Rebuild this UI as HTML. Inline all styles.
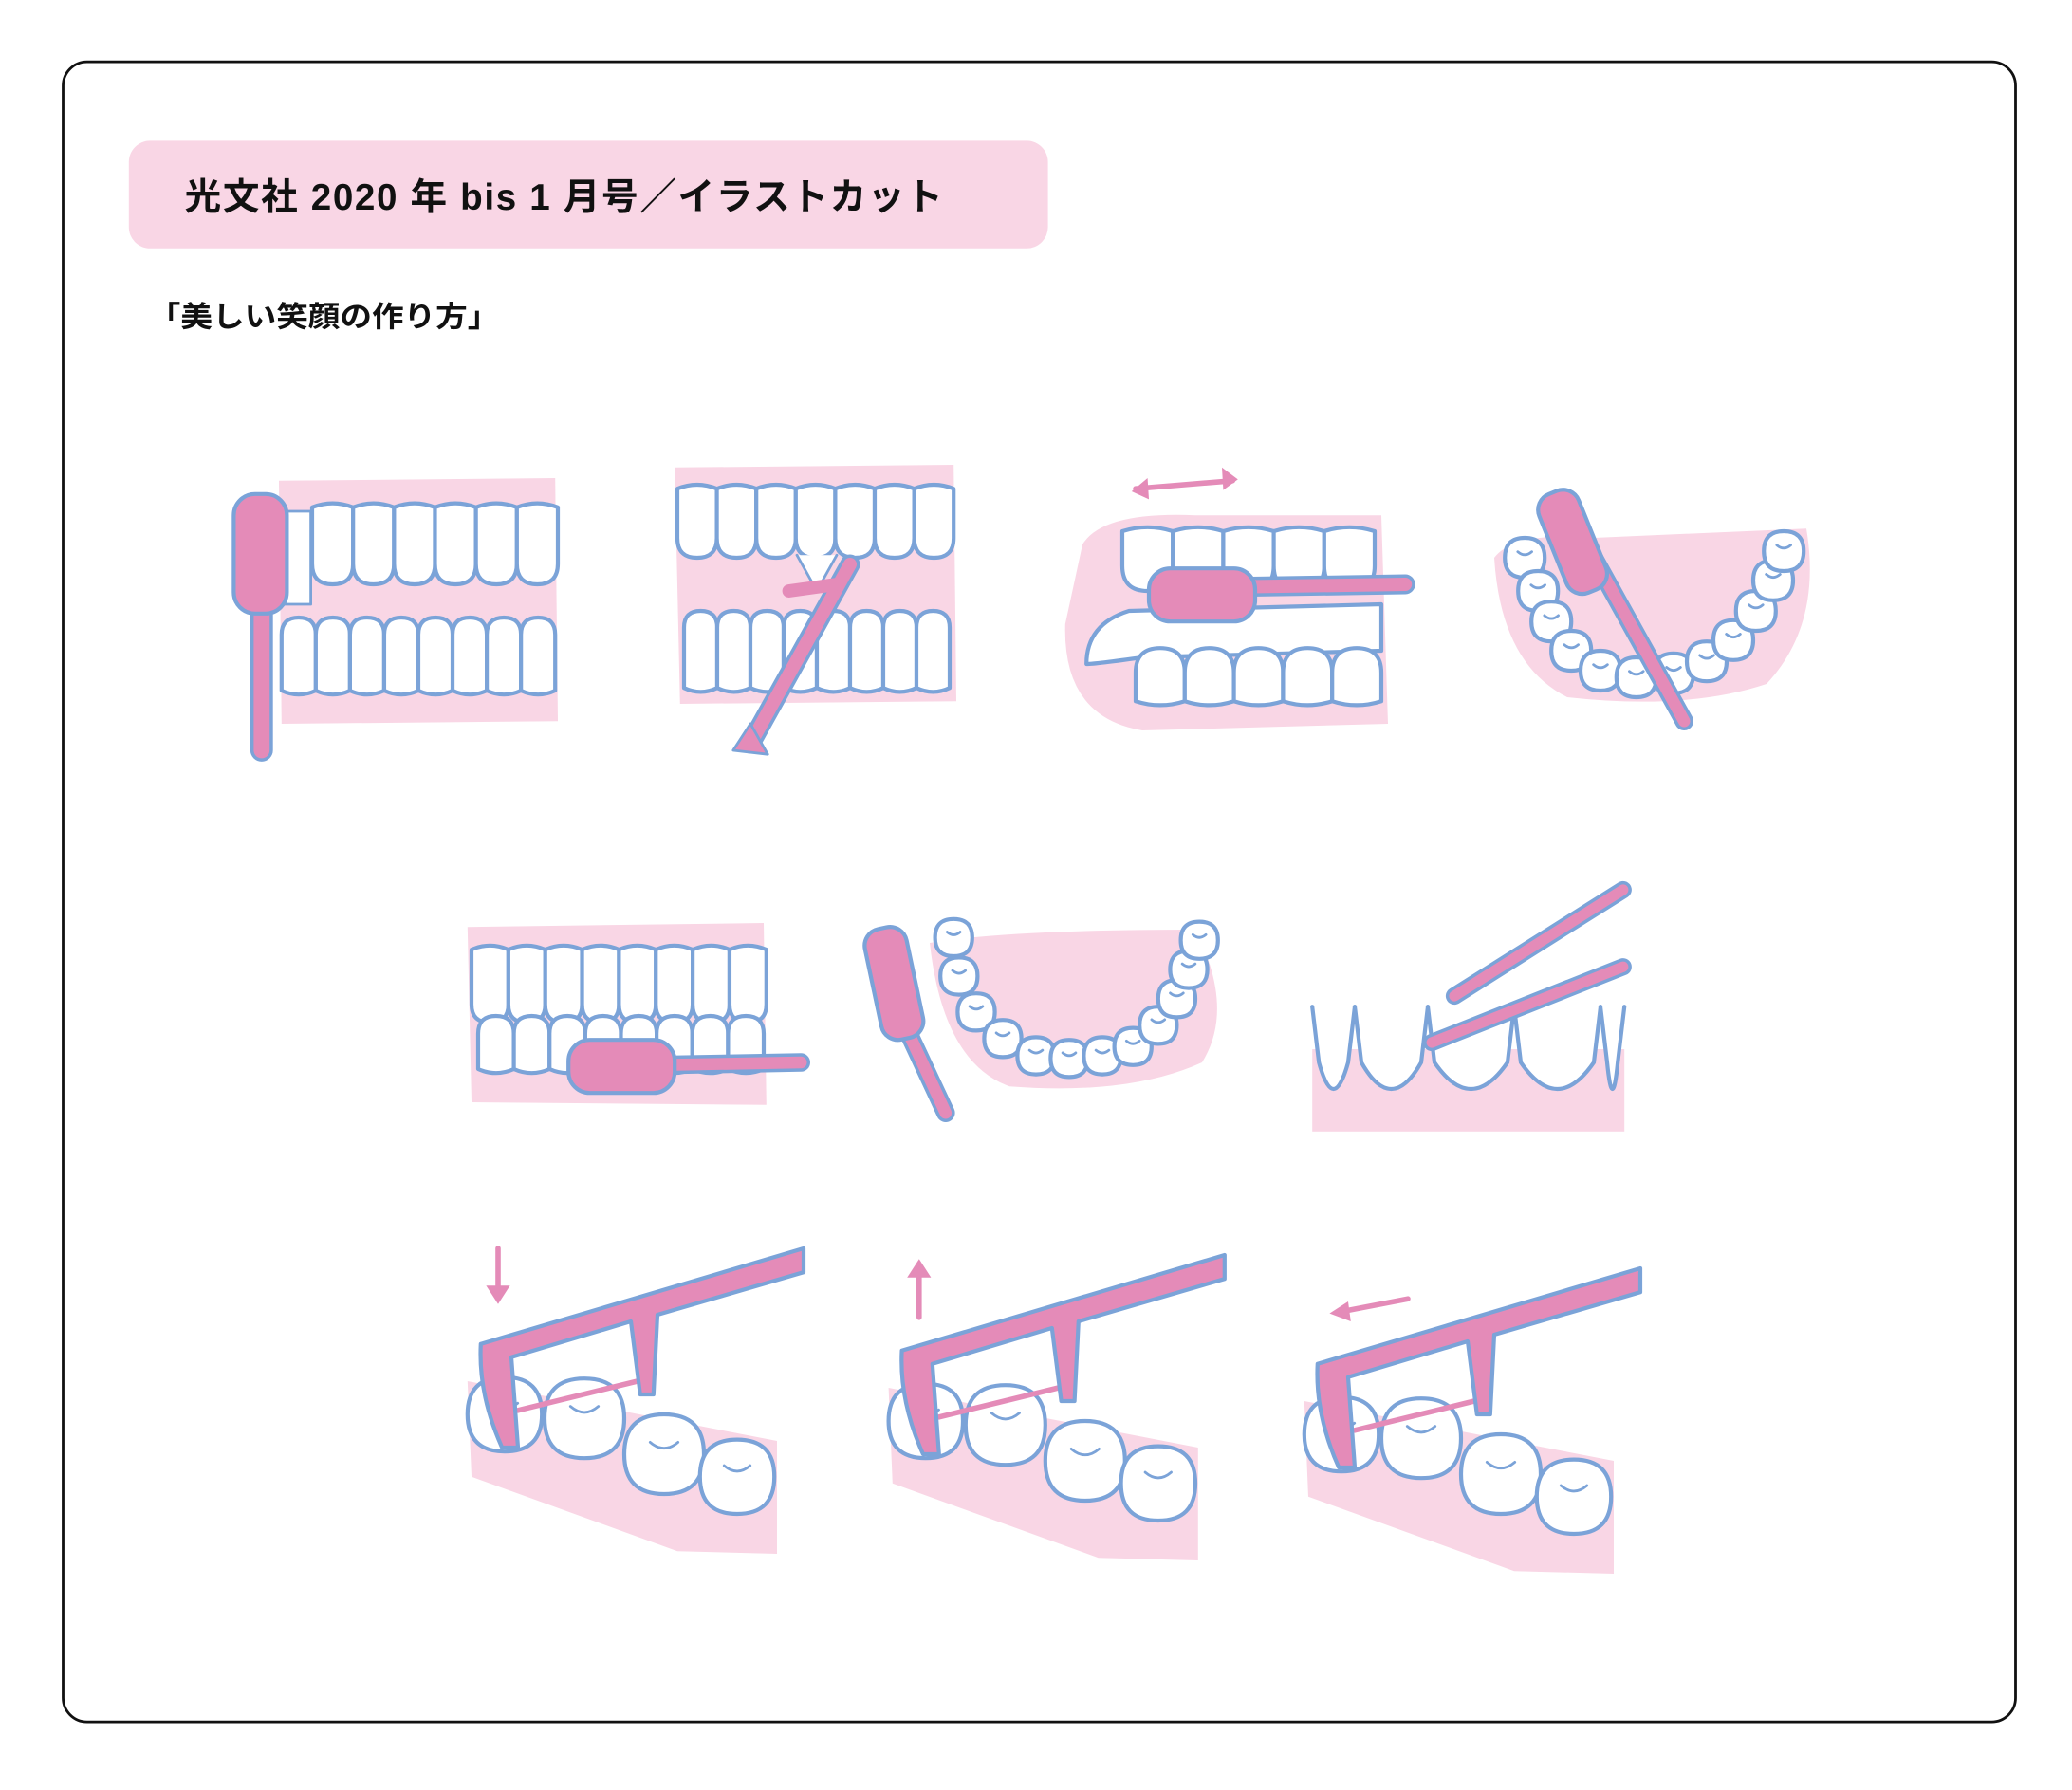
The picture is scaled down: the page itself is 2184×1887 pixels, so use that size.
<!DOCTYPE html>
<html><head><meta charset="utf-8"><style>
html,body{margin:0;padding:0;background:#fff;}
svg{display:block;}
text{font-family:"Liberation Sans","Noto Sans CJK JP",sans-serif;}
</style></head><body>
<svg id="s" width="2184" height="1887" viewBox="0 0 1560 1347.86" xmlns="http://www.w3.org/2000/svg">
<rect x="47.5" y="46.5" width="1470" height="1250" rx="18" fill="#fff" stroke="#111" stroke-width="2"/>
<rect x="97" y="106" width="692" height="81" rx="16" fill="#f9d6e5"/>
<text x="139" y="158" font-size="28" font-weight="bold" letter-spacing="1.2" fill="#111" textLength="572" lengthAdjust="spacingAndGlyphs">光文社 2020 年 bis 1 月号／イラストカット</text>
<text x="112" y="246" font-size="22" font-weight="bold" fill="#111" textLength="264" lengthAdjust="spacingAndGlyphs">「美しい笑顔の作り方」</text>
<g id="art" stroke-linejoin="round" stroke-linecap="round"></g>
</svg>
<script>
const g=document.getElementById('art');
const P='#f9d6e5',D='#e48bb8',B='#7ba3d8';
let h='';
function pink(d){h+=`<path d="${d}" fill="${P}"/>`;}
function tooth(x,y,w,hh,up){
  const r=w/2;
  if(up) h+=`<path d="M${x},${y} L${x},${y+hh-r} Q${x},${y+hh} ${x+r},${y+hh} Q${x+w},${y+hh} ${x+w},${y+hh-r} L${x+w},${y} Q${x+r},${y-6} ${x},${y}Z" fill="#fff" stroke="${B}" stroke-width="3"/>`;
  else h+=`<path d="M${x},${y+hh} L${x},${y+r} Q${x},${y} ${x+r},${y} Q${x+w},${y} ${x+w},${y+r} L${x+w},${y+hh} Q${x+r},${y+hh+6} ${x},${y+hh}Z" fill="#fff" stroke="${B}" stroke-width="3"/>`;
}
function row(x0,x1,y,hh,n,up){const w=(x1-x0)/n;for(let i=0;i<n;i++)tooth(x0+i*w,y,w,hh,up);}
function molar(cx,cy,r){h+=`<path d="M${cx-r},${cy} Q${cx-r},${cy-r} ${cx},${cy-r} Q${cx+r},${cy-r} ${cx+r},${cy} Q${cx+r},${cy+r} ${cx},${cy+r} Q${cx-r},${cy+r} ${cx-r},${cy}Z" fill="#fff" stroke="${B}" stroke-width="3"/><path d="M${cx-r*0.35},${cy-r*0.3} q${r*0.35},${r*0.3} ${r*0.7},0" fill="none" stroke="${B}" stroke-width="2"/>`;}
function stick(x1,y1,x2,y2,w){h+=`<line x1="${x1}" y1="${y1}" x2="${x2}" y2="${y2}" stroke="${B}" stroke-width="${w+5}"/><line x1="${x1}" y1="${y1}" x2="${x2}" y2="${y2}" stroke="${D}" stroke-width="${w}"/>`;}
function head(x,y,w,hh,rot,cx,cy){h+=`<rect x="${x}" y="${y}" width="${w}" height="${hh}" rx="${Math.min(w,hh)/2.5}" fill="${D}" stroke="${B}" stroke-width="3" transform="rotate(${rot||0} ${cx||0} ${cy||0})"/>`;}
pink('M210,362 L418,360 L420,543 L212,545Z');
row(235,420,382,58,6,true);row(212,418,465,55,8,false);
h+=`<rect x="212" y="385" width="22" height="70" fill="#fff" stroke="${B}" stroke-width="2"/>`;
stick(197,450,197,565,12);head(176,372,40,90);
pink('M508,352 L718,350 L720,528 L512,530Z');
row(510,718,368,52,7,true);row(515,715,460,58,8,false);
h+=`<path d="M600,418 L615,445 L630,418" fill="#fff" stroke="${B}" stroke-width="2"/>`;
stick(640,425,565,560,10);h+=`<path d="M552,565 L565,545 L578,568Z" fill="${D}" stroke="${B}" stroke-width="2"/>`;
h+=`<path d="M594,445 L630,440" stroke="${D}" stroke-width="10"/>`;
pink('M815,410 Q830,385 900,388 L1040,388 L1045,545 L860,550 Q800,540 802,470Z');
h+=`<path d="M818,500 Q818,470 850,460 L1040,455 L1040,490 L860,495 Q825,500 818,500Z" fill="#fff" stroke="${B}" stroke-width="3"/>`;
row(845,1035,400,45,5,true);row(855,1040,488,40,5,false);
stick(930,442,1058,440,10);head(865,428,80,40);
h+=`<line x1="855" y1="368" x2="928" y2="362" stroke="${D}" stroke-width="4"/><path d="M852,370 l12,-10 l1,16Z M932,361 l-12,-9 l1,17Z" fill="${D}"/>`;
pink('M1125,420 Q1140,400 1200,405 L1360,398 Q1372,470 1330,515 Q1270,535 1180,525 Q1130,500 1125,420Z');
[[1148,420],[1158,445],[1168,468],[1183,490],[1205,505],[1232,510],[1260,507],[1285,498],[1305,482],[1322,460],[1335,437],[1343,415]].forEach(p=>molar(p[0],p[1],15));
stick(1200,420,1268,543,9);head(1168,368,32,80,-22,1184,408);
pink('M352,698 L575,695 L577,832 L355,830Z');
row(355,577,715,55,8,true);row(360,575,765,40,8,false);
stick(495,802,603,800,9);head(428,783,80,40);
pink('M700,710 Q760,700 900,700 Q930,760 905,800 Q850,825 760,818 Q710,800 700,710Z');
[[718,706],[722,735],[735,762],[755,782],[780,795],[805,797],[830,795],[853,788],[872,772],[886,752],[895,730],[903,708]].forEach(p=>molar(p[0],p[1],14));
stick(685,780,712,838,9);head(657,698,32,85,-12,673,740);
h+=`<rect x="988" y="790" width="235" height="62" fill="${P}"/>`;
[[988,1020],[1020,1075],[1075,1140],[1140,1205],[1205,1223]].forEach(t=>{const a=t[0],b=t[1];h+=`<path d="M${a},758 L${a+5},800 Q${(a+b)/2},840 ${b-5},800 L${b},758" fill="#fff" stroke="${B}" stroke-width="3"/>`;});
stick(1095,750,1222,670,8);stick(1078,785,1222,728,8);
function floss(ox,oy,arrow){
  pink(`M${352+ox},${1040+oy} L${585+ox},${1085+oy} L${585+ox},${1170+oy} L${510+ox},${1168+oy} L${355+ox},${1112+oy}Z`);
  molar(380+ox,1065+oy,28);molar(440+ox,1068+oy,30);molar(500+ox,1095+oy,30);molar(555+ox,1112+oy,28);
  h+=`<line x1="${390+ox}" y1="${1062+oy}" x2="${480+ox}" y2="${1040+oy}" stroke="${D}" stroke-width="4"/>`;
  h+=`<path d="M${362+ox},${1012+oy} L${605+ox},${940+oy} L${605+ox},${958+oy} L${495+ox},${990+oy} L${492+ox},${1050+oy} L${482+ox},${1050+oy} L${475+ox},${995+oy} L${385+ox},${1022+oy} L${390+ox},${1090+oy} L${378+ox},${1090+oy} Q${360+ox},${1050+oy} ${362+ox},${1012+oy}Z" fill="${D}" stroke="${B}" stroke-width="3"/>`;
  h+=arrow(ox,oy);
}
floss(0,0,(ox,oy)=>`<line x1="375" y1="940" x2="375" y2="975" stroke="${D}" stroke-width="4"/><path d="M366,968 l9,14 l9,-14Z" fill="${D}"/>`);
floss(317,5,()=>`<line x1="692" y1="992" x2="692" y2="955" stroke="${D}" stroke-width="4"/><path d="M683,962 l9,-14 l9,14Z" fill="${D}"/>`);
floss(630,15,()=>`<line x1="1060" y1="978" x2="1008" y2="988" stroke="${D}" stroke-width="4"/><path d="M1015,980 l-14,9 l16,6Z" fill="${D}"/>`);
g.innerHTML=h;
</script>
</body></html>
